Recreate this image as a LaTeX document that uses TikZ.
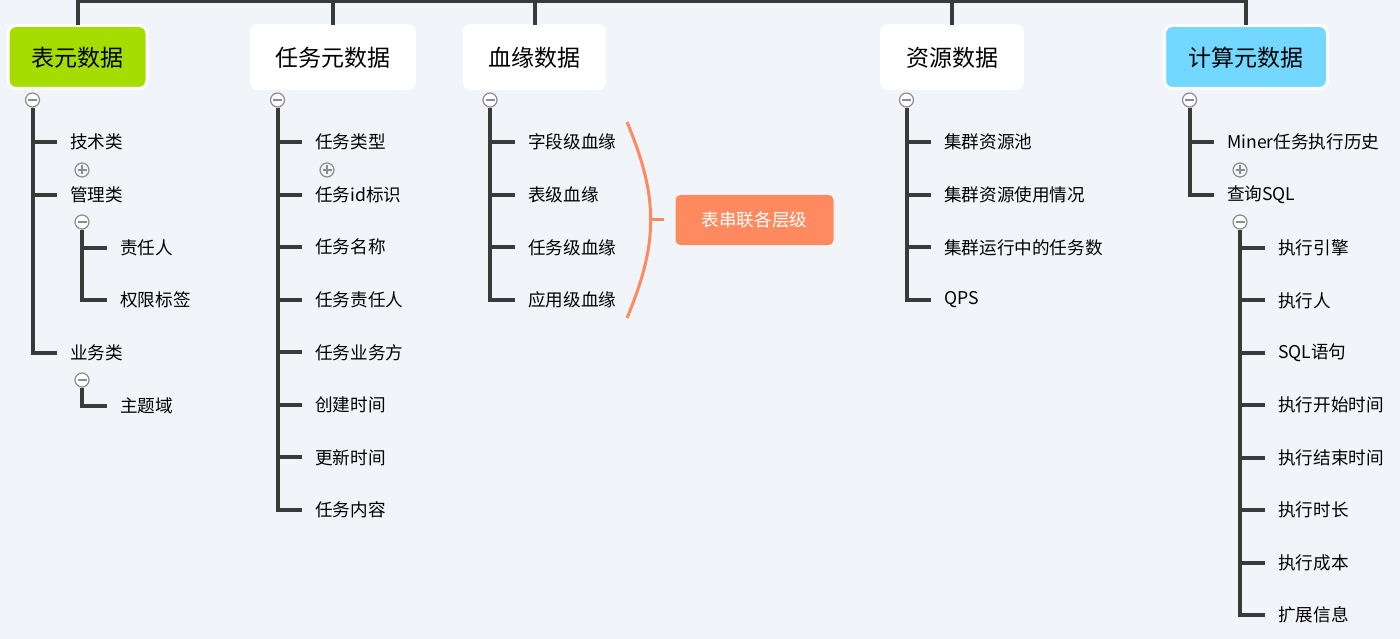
\documentclass[tikz,border=0pt]{standalone}
\usepackage{fontspec}
\setmainfont{Noto Sans CJK SC}
\definecolor{bgc}{RGB}{241,245,249}
\definecolor{linec}{RGB}{58,58,58}
\definecolor{greenc}{RGB}{166,221,0}
\definecolor{bluec}{RGB}{115,216,255}
\definecolor{orangec}{RGB}{255,138,95}
\definecolor{iconc}{RGB}{140,140,140}
\tikzset{
  header/.style={rounded corners=8pt, minimum height=63pt, font=\fontsize{23}{27}\selectfont, text=black, inner sep=0pt, text depth=0pt, text height=19pt},
  hwhite/.style={header, fill=white},
  hcolor/.style={header, draw=white, line width=3pt},
  child/.style={anchor=west, inner xsep=13pt, inner ysep=0pt, font=\fontsize{17.6}{20}\selectfont, text=black, yshift=-1pt},
  branch/.style={draw=linec, line width=4pt},
  minusicon/.style={circle, draw=iconc, fill=white, line width=1.2pt, minimum size=14pt, inner sep=0pt,
    path picture={\draw[iconc, line width=1.2pt] ([xshift=-4.5pt]path picture bounding box.center) -- ([xshift=4.5pt]path picture bounding box.center);}},
  plusicon/.style={circle, draw=iconc, fill=bgc, line width=1.2pt, minimum size=14pt, inner sep=0pt,
    path picture={\draw[iconc, line width=1.2pt] ([xshift=-4.5pt]path picture bounding box.center) -- ([xshift=4.5pt]path picture bounding box.center) ([yshift=-4.5pt]path picture bounding box.center) -- ([yshift=4.5pt]path picture bounding box.center);}},
}
\begin{document}
\begin{tikzpicture}[x=1pt,y=-1pt]
\useasboundingbox (0,0) rectangle (1400,639);
\fill[bgc] (0,0) rectangle (1400,639);

% headers
\node[hcolor, fill=greenc, minimum width=139pt] (h1) at (77.5,57) {表元数据};
\node[hwhite, minimum width=166pt, minimum height=66pt] (h2) at (333,57) {任务元数据};
\node[hwhite, minimum width=143pt, minimum height=66pt] (h3) at (534.5,57) {血缘数据};
\node[hwhite, minimum width=144pt, minimum height=66pt] (h4) at (952,57) {资源数据};
\node[hcolor, fill=bluec, minimum width=163pt] (h5) at (1246,57) {计算元数据};

% top bus
\coordinate (t1) at (77.5,1.5);
\coordinate (t5) at (1246,1.5);
\draw[branch] ([xshift=-2pt]t1) -- ([xshift=2pt]t5);
\foreach \h in {h1,h2,h3,h4,h5} {
  \draw[branch] (\h.north |- t1) -- ([yshift=-1.5pt]\h.north);
}

% ---- column 1
\node[minusicon] (m1) at (32.5,100) {};
\node[child] (c11) at (57,141) {技术类};
\node[child] (c12) at (57,194) {管理类};
\node[child] (c13) at (57,352) {业务类};
\draw[branch] (m1.south) -- (m1.south |- c13.west) -- (c13.west);
\draw[branch] (m1.south |- c11.west) -- (c11.west);
\draw[branch] (m1.south |- c12.west) -- (c12.west);
\node[plusicon] (p11) at (82,170) {};
\node[minusicon] (m12) at (82,222) {};
\node[child] (c121) at (107,247) {责任人};
\node[child] (c122) at (107,299) {权限标签};
\draw[branch] (m12.south) -- (m12.south |- c122.west) -- (c122.west);
\draw[branch] (m12.south |- c121.west) -- (c121.west);
\node[minusicon] (m13) at (82,380) {};
\node[child] (c131) at (107,405) {主题域};
\draw[branch] (m13.south) -- (m13.south |- c131.west) -- (c131.west);

% ---- column 2
\node[minusicon] (m2) at (277.5,100) {};
\foreach \t [count=\i] in {任务类型,任务id标识,任务名称,任务责任人,任务业务方,创建时间,更新时间,任务内容} {
  \node[child] (c2\i) at (302,{141+(\i-1)*52.57}) {\t};
}
\draw[branch] (m2.south) -- (m2.south |- c28.west) -- (c28.west);
\foreach \i in {1,...,7} { \draw[branch] (m2.south |- c2\i.west) -- (c2\i.west); }
\node[plusicon] (p21) at (327,170) {};

% ---- column 3
\node[minusicon] (m3) at (490,100) {};
\foreach \t [count=\i] in {字段级血缘,表级血缘,任务级血缘,应用级血缘} {
  \node[child] (c3\i) at (515,{141+(\i-1)*52.67}) {\t};
}
\draw[branch] (m3.south) -- (m3.south |- c34.west) -- (c34.west);
\foreach \i in {1,...,3} { \draw[branch] (m3.south |- c3\i.west) -- (c3\i.west); }
\node[fill=orangec, rounded corners=5pt, minimum width=158pt, minimum height=50pt, inner sep=0pt,
  text=white, font=\fontsize{17.6}{20}\selectfont] (sum3) at (754.5,220) {表串联各层级};
\coordinate (br1) at (627,122);
\coordinate (br2) at (627,318);
\coordinate (brm) at (650.5,220);
\draw[orangec, line width=3pt] (br1) .. controls (645,165) and (651,195) .. (brm) .. controls (651,245) and (645,275) .. (br2);
\draw[orangec, line width=3pt] (brm) -- ([xshift=-11pt]sum3.west);

% ---- column 4
\node[minusicon] (m4) at (906.5,100) {};
\foreach \t [count=\i] in {集群资源池,集群资源使用情况,集群运行中的任务数,QPS} {
  \node[child] (c4\i) at (931,{141+(\i-1)*52.67}) {\t};
}
\draw[branch] (m4.south) -- (m4.south |- c44.west) -- (c44.west);
\foreach \i in {1,...,3} { \draw[branch] (m4.south |- c4\i.west) -- (c4\i.west); }

% ---- column 5
\node[minusicon] (m5) at (1189.5,100) {};
\node[child] (c51) at (1214,141) {Miner任务执行历史};
\node[child] (c52) at (1214,194) {查询SQL};
\draw[branch] (m5.south) -- (m5.south |- c52.west) -- (c52.west);
\draw[branch] (m5.south |- c51.west) -- (c51.west);
\node[plusicon] (p51) at (1240,170) {};
\node[minusicon] (m52) at (1240,222) {};
\foreach \t [count=\i] in {执行引擎,执行人,SQL语句,执行开始时间,执行结束时间,执行时长,执行成本,扩展信息} {
  \node[child] (d\i) at (1265,{247+(\i-1)*52.43}) {\t};
}
\draw[branch] (m52.south) -- (m52.south |- d8.west) -- (d8.west);
\foreach \i in {1,...,7} { \draw[branch] (m52.south |- d\i.west) -- (d\i.west); }
\end{tikzpicture}
\end{document}
